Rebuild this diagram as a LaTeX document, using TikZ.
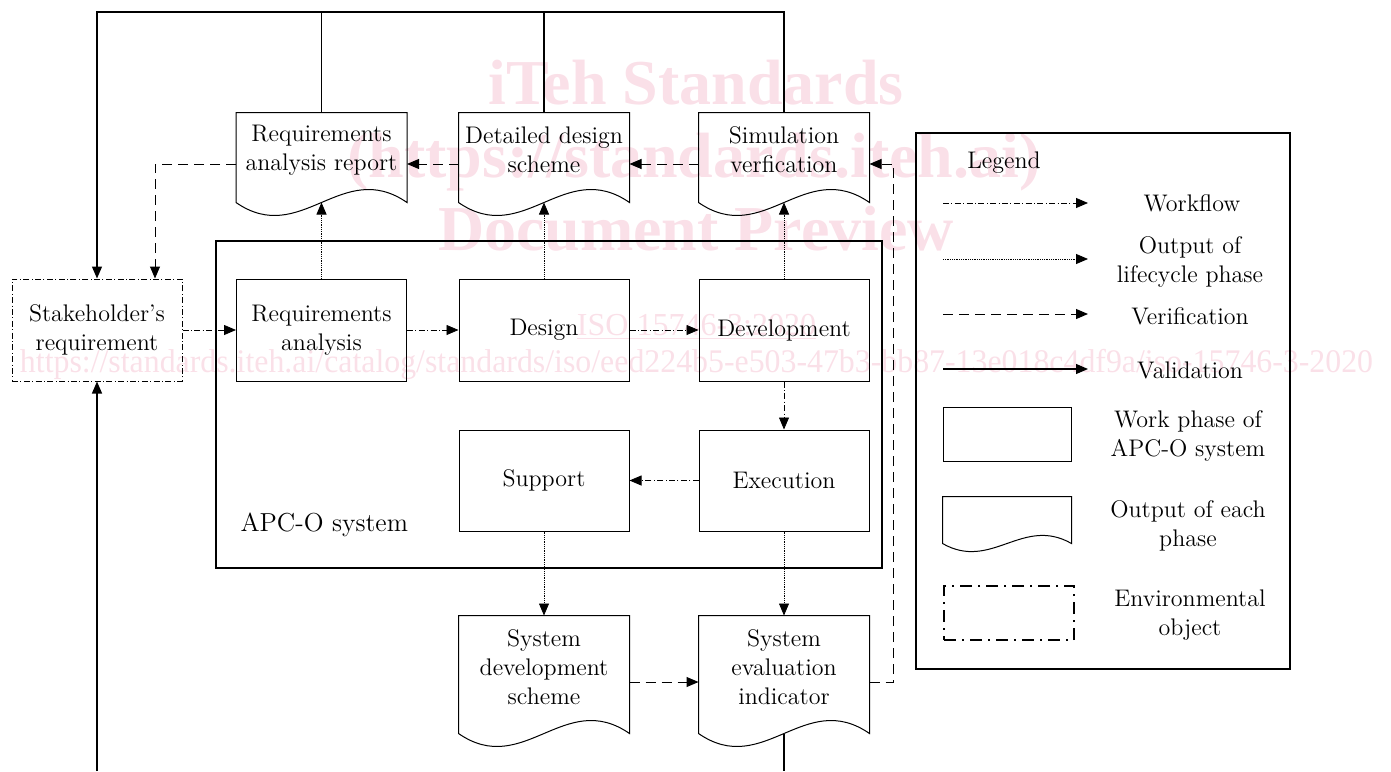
\documentclass[tikz,border=0pt]{standalone}
\usepackage{fontspec}
\usepackage{tikz}
\usetikzlibrary{arrows.meta,positioning}
\newfontfamily\wmfont{Liberation Serif}
\definecolor{wmpink}{RGB}{250,224,232}
% output document outline under a named node
\newcommand{\docshape}[4]{%
  \draw (#1.north west) -- (#1.north east) -- ([yshift=-#2]#1.south east)
    .. controls +(-#3,-#4) and +(#3,#4) .. ([yshift=-#2]#1.south west) -- cycle;
  \coordinate (#1-b) at ([yshift=-#2]#1.south);}

\begin{document}
\begin{tikzpicture}[x=0.5pt,y=-0.5pt,line width=0.5pt,>={Triangle[length=6pt,width=5pt]}]
\tikzstyle{every node}+=[inner sep=0pt,font=\fontsize{12}{14.5}\selectfont]
\tikzstyle{phase}=[draw,minimum width=85pt,minimum height=51pt,align=center]
\tikzstyle{envobj}=[phase,dash pattern=on 3pt off 1.2pt on 0.5pt off 1.2pt]
\tikzstyle{docnode}=[minimum width=85pt,align=center]
\tikzstyle{txt}=[align=center]
\tikzstyle{workflow}=[->,line width=0.4pt,dash pattern=on 3pt off 1.2pt on 0.5pt off 1.2pt]
\tikzstyle{output}=[->,line width=0.4pt,dash pattern=on 0.5pt off 0.4pt]
\tikzstyle{verif}=[->,dash pattern=on 5pt off 3pt]
\tikzstyle{valid}=[line width=0.6pt]
\tikzstyle{wmark}=[text=wmpink,font=\wmfont\bfseries\fontsize{32}{36}\selectfont,anchor=base]
\useasboundingbox (0,0) rectangle (1391,771);

% watermark
\node[wmark] (wm1) at (696,104) {iTeh Standards};
\node[wmark] (wm2) at (694,177) {(https://standards.iteh.ai)};
\node[wmark] (wm3) at (696,250) {Document Preview};
\node[wmark,font=\wmfont\fontsize{16}{18}\selectfont] (wm4) at (696.5,335) {\underline{ISO 15746-3:2020}};
\node[wmark,font=\wmfont\fontsize{16.5}{18}\selectfont] (wm5) at (696.5,372)
  {\resizebox{676.5pt}{\height}{https://standards.iteh.ai/catalog/standards/iso/eed224b5-e503-47b3-bb87-13e018c4df9a/iso-15746-3-2020}};

% APC-O system
\node[draw,line width=1pt,minimum width=333pt,minimum height=163.5pt] (apc) at (549,404.5) {};
\node[anchor=west,font=\fontsize{13}{15}\selectfont] (apclbl) at (240,525) {APC-O system};

% phases
\node[envobj] (stake) at (97,330) {Stakeholder’s\\requirement};
\node[phase] (ra) at (321.5,330) {Requirements\\analysis};
\node[phase] (des) at (544,330) {Design};
\node[phase] (dev) at (784,330) {Development};
\node[phase,minimum height=50.5pt] (sup) at (544,480.5) {Support};
\node[phase,minimum height=50.5pt] (exe) at (784,480.5) {Execution};

% outputs
\node[docnode,minimum height=37pt] (rar) at (321.5,150) {Requirements\\analysis report};
\node[docnode,minimum height=37pt] (dds) at (544,150) {Detailed design\\scheme};
\node[docnode,minimum height=37pt] (sim) at (784,150) {Simulation\\verfication};
\node[docnode,minimum height=51pt] (sds) at (544,667) {System\\development\\scheme};
\node[docnode,minimum height=51pt] (sei) at (784,667) {System\\evaluation\\indicator};
\docshape{rar}{7.5pt}{65}{45}
\docshape{dds}{7.5pt}{65}{45}
\docshape{sim}{7.5pt}{65}{45}
\docshape{sds}{7.5pt}{65}{45}
\docshape{sei}{7.5pt}{65}{45}

% workflow
\draw[workflow] (stake.east) -- (ra.west);
\draw[workflow] (ra.east) -- (des.west);
\draw[workflow] (des.east) -- (dev.west);
\draw[workflow] (dev.south) -- (exe.north);
\draw[workflow] (exe.west) -- (sup.east);

% output of lifecycle phase
\draw[output] (ra.north) -- (rar-b);
\draw[output] (des.north) -- (dds-b);
\draw[output] (dev.north) -- (sim-b);
\draw[output] (sup.south) -- (sds.north);
\draw[output] (exe.south) -- (sei.north);

% verification
\draw[verif] ([yshift=-7.5pt]sei.east) -- ++(24,0) |- ([yshift=-7pt]sim.east);
\draw[verif] ([yshift=-7pt]sim.west) -- ([yshift=-7pt]dds.east);
\draw[verif] ([yshift=-7pt]dds.west) -- ([yshift=-7pt]rar.east);
\draw[verif] ([yshift=-7pt]rar.west) -| ([xshift=29pt]stake.north);
\draw[verif] ([yshift=-7.5pt]sds.east) -- ([yshift=-7.5pt]sei.west);

% validation
\coordinate (topL) at (97,12);
\coordinate (botL) at (97,771);
\coordinate (botR) at (784,771);
\draw[valid,->] (sim.north) |- (topL) -- (stake.north);
\draw[valid] (rar.north) -- (rar.north |- topL);
\draw[valid] (dds.north) -- (dds.north |- topL);
\draw[valid,->] (botL) -- (stake.south);
\draw[valid] (sei-b) -- (botR);

% legend
\node[draw,line width=1pt,minimum width=187pt,minimum height=268pt] (lgd) at (1103,401) {};
\node[txt] (lgdtitle) at (1004,163) {Legend};
\coordinate (wf1) at (943,203); \coordinate (wf2) at (1088,203);
\coordinate (op1) at (943,259); \coordinate (op2) at (1088,259);
\coordinate (vf1) at (943,314); \coordinate (vf2) at (1088,314);
\coordinate (vd1) at (943,369); \coordinate (vd2) at (1088,369);
\draw[workflow] (wf1) -- (wf2);
\draw[output] (op1) -- (op2);
\draw[verif] (vf1) -- (vf2);
\draw[valid,->] (vd1) -- (vd2);
\node[txt] (wftxt) at (1192,203) {Workflow};
\node[txt] (optxt) at (1190,261.5) {Output of\\lifecycle phase};
\node[txt] (vftxt) at (1190,316) {Verification};
\node[txt] (vdtxt) at (1190,370) {Validation};
\node[phase,minimum width=64pt,minimum height=27pt] (lwp) at (1007,434) {};
\node[docnode,minimum width=64pt,minimum height=23pt] (ldoc) at (1007,520) {};
\docshape{ldoc}{0pt}{49}{28}
\node[envobj,line width=1pt,dash pattern=on 6pt off 3pt on 1pt off 3pt,minimum width=65pt,minimum height=27pt] (lenv) at (1009,613) {};
\node[txt] (lwptxt) at (1188,436) {Work phase of\\APC-O system};
\node[txt] (ldoctxt) at (1188,525.5) {Output of each\\phase};
\node[txt] (lenvtxt) at (1190,615.5) {Environmental\\object};
\end{tikzpicture}
\end{document}
